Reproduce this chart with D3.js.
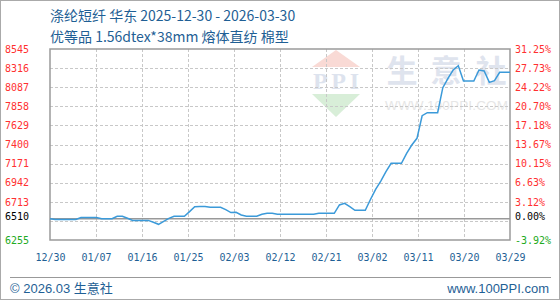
<!DOCTYPE html>
<html>
<head>
<meta charset="utf-8">
<script src="https://cdn.jsdelivr.net/npm/d3@7/dist/d3.min.js"></script>
<style>
  html, body { margin: 0; padding: 0; background: #fff; }
  svg { display: block; }
</style>
</head>
<body>
<svg id="chart" width="560" height="300"></svg>
<script>
// ---- data ----
const titleLine1 = "涤纶短纤 华东 2025-12-30 - 2026-03-30";
const titleLine2 = "优等品 1.56dtex*38mm 熔体直纺 棉型";
const startDate = "2025-12-30";
const endDate = "2026-03-29";
const prices = [
  6510, 6500, 6500, 6500, 6500, 6500, 6525, 6525, 6525, 6525,
  6510, 6510, 6510, 6540, 6540, 6515, 6490, 6490, 6490, 6490,
  6467, 6443, 6479, 6515, 6539, 6539, 6539, 6595, 6654, 6658,
  6658, 6647, 6647, 6647, 6620, 6584, 6587, 6555, 6539, 6539,
  6539, 6563, 6575, 6575, 6563, 6563, 6563, 6563, 6563, 6563,
  6563, 6563, 6575, 6575, 6575, 6575, 6675, 6695, 6655, 6611,
  6611, 6611, 6740, 6863, 6962, 7074, 7175, 7175, 7175, 7294,
  7394, 7474, 7745, 7781, 7781, 7781, 8081, 8194, 8293, 8345,
  8161, 8161, 8161, 8293, 8281, 8145, 8165, 8266, 8266, 8266
];
const baseValue = 6510;
const baseLabel = "6510";
const basePctLabel = "0.00%";
const yTicks = [8545, 8316, 8087, 7858, 7629, 7400, 7171, 6942, 6713, 6484, 6255];
const yLeftLabels = ["8545", "8316", "8087", "7858", "7629", "7400", "7171", "6942", "6713", "", "6255"];
const yRightLabels = ["31.25%", "27.73%", "24.22%", "20.70%", "17.18%", "13.67%", "10.15%", "6.63%", "3.12%", "", "-3.92%"];
const xTickLabels = ["12/30", "01/07", "01/16", "01/25", "02/03", "02/12", "02/21", "03/02", "03/11", "03/20", "03/29"];
const footerLeft = "© 2026.03 生意社";
const footerRight = "www.100PPI.com";

// ---- layout ----
const W = 560, H = 300;
const plot = { left: 50, right: 510, top: 49, bottom: 240 };
const svg = d3.select("#chart");
const parse = d3.utcParse("%Y-%m-%d");
const t0 = parse(startDate), t1 = parse(endDate);
const dates = d3.utcDay.range(t0, d3.utcDay.offset(t1, 1));
const data = prices.map((v, i) => ({ date: dates[i], value: v }));

const x = d3.scaleUtc().domain([t0, t1]).range([plot.left, plot.right]);
const y = d3.scaleLinear().domain([6255, 8545]).range([plot.bottom, plot.top]);

// outer frame
svg.append("rect").attr("x", 0.5).attr("y", 0.5).attr("width", W - 1).attr("height", H - 1)
  .attr("fill", "#fff").attr("stroke", "#aaaaaa").attr("stroke-width", 1);

// titles
const titleColor = "#1f5f95";
const cjk = "'Noto Sans CJK SC', 'Noto Sans', sans-serif";
svg.append("text").attr("x", 50).attr("y", 21).attr("font-family", cjk).attr("font-size", 14)
  .attr("fill", titleColor).text(titleLine1);
svg.append("text").attr("x", 50).attr("y", 42).attr("font-family", cjk).attr("font-size", 14)
  .attr("fill", titleColor).text(titleLine2);

// watermark
const wm = svg.append("g");
wm.append("path").attr("d", "M312,67 L336,50 L360,67 Z").attr("fill", "#f9dad5");
wm.append("text").attr("x", 336).attr("y", 89).attr("text-anchor", "middle")
  .attr("font-family", "'Liberation Serif', serif").attr("font-weight", "bold").attr("font-size", 24)
  .attr("fill", "#dde3ee").attr("textLength", 46).text("PPI");
wm.append("path").attr("d", "M312,94 L360,94 L336,117 Z").attr("fill", "#d8eed8");
const wmChars = ["生", "意", "社"];
const wmX = [402, 446, 491];
wmChars.forEach((c, i) => {
  wm.append("text").attr("x", wmX[i]).attr("y", 82).attr("text-anchor", "middle")
    .attr("font-family", cjk).attr("font-weight", "bold").attr("font-size", 31)
    .attr("fill", "#dfe4ee").text(c);
});
wm.append("text").attr("x", 385).attr("y", 110)
  .attr("font-family", "'Liberation Sans', Arial, sans-serif").attr("font-size", 13.5)
  .attr("fill", "#e6e6e6").attr("textLength", 123).text("WWW.100PPI.COM");

// grid
const xTickDates = xTickLabels.map((_, k) => new Date(+t0 + k * (t1 - t0) / (xTickLabels.length - 1)));
const grid = svg.append("g").attr("stroke", "#c8c8c8").attr("stroke-width", 1).attr("stroke-dasharray", "3,2");
grid.selectAll("line.h").data(yTicks.slice(1, -1)).join("line")
  .attr("x1", plot.left).attr("x2", plot.right)
  .attr("y1", d => Math.round(y(d)) + 0.5).attr("y2", d => Math.round(y(d)) + 0.5);
grid.selectAll("line.v").data(xTickDates.slice(1, -1)).join("line")
  .attr("y1", plot.top).attr("y2", plot.bottom)
  .attr("x1", d => Math.round(x(d)) + 0.5).attr("x2", d => Math.round(x(d)) + 0.5);

// baseline
svg.append("line").attr("x1", plot.left).attr("x2", plot.right)
  .attr("y1", y(baseValue)).attr("y2", y(baseValue))
  .attr("stroke", "#999").attr("stroke-width", 1.5);

// plot border
svg.append("rect").attr("x", plot.left).attr("y", plot.top)
  .attr("width", plot.right - plot.left).attr("height", plot.bottom - plot.top)
  .attr("fill", "none").attr("stroke", "#9a9a9a").attr("stroke-width", 1.5);

// line
svg.append("path").datum(data)
  .attr("fill", "none").attr("stroke", "#3b9ad9").attr("stroke-width", 1.5)
  .attr("d", d3.line().x(d => x(d.date)).y(d => y(d.value)));

// axis labels
const mono = "'DejaVu Sans Mono', monospace";
const colorFor = v => v > baseValue ? "#ff3030" : (v < baseValue ? "#22aa22" : "#000");
const yAxisL = svg.append("g").attr("transform", `translate(${plot.left},0)`)
  .call(d3.axisLeft(y).tickValues(yTicks).tickSize(0).tickPadding(0).tickFormat((d, i) => yLeftLabels[i]));
yAxisL.select(".domain").remove();
yAxisL.selectAll("text").attr("x", -45).attr("text-anchor", "start")
  .attr("font-family", mono).attr("font-size", 10).attr("fill", d => colorFor(d));

const yAxisR = svg.append("g").attr("transform", `translate(${plot.right},0)`)
  .call(d3.axisRight(y).tickValues(yTicks).tickSize(0).tickPadding(0).tickFormat((d, i) => yRightLabels[i]));
yAxisR.select(".domain").remove();
yAxisR.selectAll("text").attr("x", 5).attr("text-anchor", "start")
  .attr("font-family", mono).attr("font-size", 10).attr("fill", d => colorFor(d));

// base labels
svg.append("text").attr("x", 5).attr("y", y(baseValue) - 2).attr("dy", "0.32em")
  .attr("font-family", mono).attr("font-size", 10).attr("fill", "#000").text(baseLabel);
svg.append("text").attr("x", plot.right + 5).attr("y", y(baseValue) - 2).attr("dy", "0.32em")
  .attr("font-family", mono).attr("font-size", 10).attr("fill", "#000").text(basePctLabel);

const xAxis = svg.append("g").attr("transform", `translate(0,${plot.bottom})`)
  .call(d3.axisBottom(x).tickValues(xTickDates).tickSize(0).tickPadding(14)
    .tickFormat((d, i) => xTickLabels[i]));
xAxis.select(".domain").remove();
xAxis.selectAll("text").attr("font-family", mono).attr("font-size", 10).attr("fill", "#1f5f95");

// footer
svg.append("line").attr("x1", 10).attr("x2", 551).attr("y1", 277.5).attr("y2", 277.5)
  .attr("stroke", "#999").attr("stroke-width", 1);
svg.append("text").attr("x", 10).attr("y", 293).attr("font-family", "'Liberation Sans', " + cjk)
  .attr("font-size", 13).attr("fill", titleColor).text(footerLeft);
svg.append("text").attr("x", 549).attr("y", 293).attr("text-anchor", "end")
  .attr("font-family", "'Liberation Sans', sans-serif").attr("font-size", 13)
  .attr("fill", titleColor).text(footerRight);
</script>
</body>
</html>
